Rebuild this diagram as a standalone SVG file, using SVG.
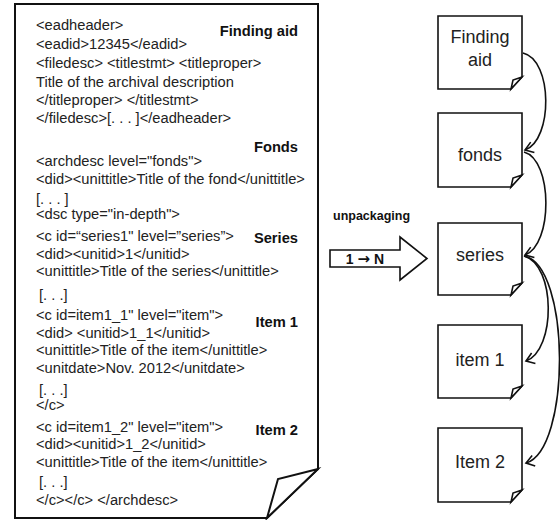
<svg xmlns="http://www.w3.org/2000/svg" width="560" height="520" viewBox="0 0 560 520">
<style>
.doc{font-family:"Liberation Sans",Arial,sans-serif;font-size:14.7px;fill:#222}
.lbl{font-family:"Liberation Sans",Arial,sans-serif;font-size:14.7px;font-weight:bold;fill:#111;text-anchor:end}
.box{fill:#fff;stroke:#111;stroke-width:1.6}
.bt{font-family:"Liberation Sans",Arial,sans-serif;font-size:18px;fill:#222;text-anchor:middle}
.con{fill:none;stroke:#111;stroke-width:1.6}
.ar{font-family:"Liberation Sans",Arial,sans-serif;font-weight:bold;font-size:12.5px;fill:#111}
</style>
<defs>
<marker id="chev" markerUnits="userSpaceOnUse" markerWidth="14" markerHeight="14" refX="0" refY="0" viewBox="-10 -7 12 14" orient="auto">
<path d="M-8,-5.5 L0,0 L-8,5.5" fill="none" stroke="#111" stroke-width="1.6"/>
</marker>
</defs>
<rect width="560" height="520" fill="#fff"/>
<g id="document">
<path d="M15,4 H318 V469 L267,518 H15 Z" fill="#fff" stroke="#111" stroke-width="2"/>
<path d="M318,469 L278,479 L267,518 Z" fill="#fff" stroke="#111" stroke-width="2" stroke-linejoin="miter"/>
<text class="doc" x="36" y="30">&lt;eadheader&gt;</text>
<text class="doc" x="36" y="49">&lt;eadid&gt;12345&lt;/eadid&gt;</text>
<text class="doc" x="36" y="68">&lt;filedesc&gt; &lt;titlestmt&gt; &lt;titleproper&gt;</text>
<text class="doc" x="36" y="87">Title of the archival description</text>
<text class="doc" x="36" y="105">&lt;/titleproper&gt; &lt;/titlestmt&gt;</text>
<text class="doc" x="36" y="123">&lt;/filedesc&gt;[. . . ]&lt;/eadheader&gt;</text>
<text class="doc" x="36" y="166">&lt;archdesc level="fonds"&gt;</text>
<text class="doc" x="36" y="184">&lt;did&gt;&lt;unittitle&gt;Title of the fond&lt;/unittitle&gt;</text>
<text class="doc" x="36" y="204">[. . . ]</text>
<text class="doc" x="36" y="219">&lt;dsc type="in-depth"&gt;</text>
<text class="doc" x="36" y="241">&lt;c id=“series1" level=”series”&gt;</text>
<text class="doc" x="36" y="259">&lt;did&gt;&lt;unitid&gt;1&lt;/unitid&gt;</text>
<text class="doc" x="36" y="276">&lt;unittitle&gt;Title of the series&lt;/unittitle&gt;</text>
<text class="doc" x="39" y="300">[. . .]</text>
<text class="doc" x="36" y="320">&lt;c id=item1_1" level="item"&gt;</text>
<text class="doc" x="36" y="338">&lt;did&gt; &lt;unitid&gt;1_1&lt;/unitid&gt;</text>
<text class="doc" x="36" y="355">&lt;unittitle&gt;Title of the item&lt;/unittitle&gt;</text>
<text class="doc" x="36" y="373">&lt;unitdate&gt;Nov. 2012&lt;/unitdate&gt;</text>
<text class="doc" x="39" y="395">[. . .]</text>
<text class="doc" x="36" y="410">&lt;/c&gt;</text>
<text class="doc" x="36" y="432">&lt;c id=item1_2" level="item"&gt;</text>
<text class="doc" x="36" y="449">&lt;did&gt;&lt;unitid&gt;1_2&lt;/unitid&gt;</text>
<text class="doc" x="36" y="467">&lt;unittitle&gt;Title of the item&lt;/unittitle&gt;</text>
<text class="doc" x="39" y="487">[. . .]</text>
<text class="doc" x="36" y="505">&lt;/c&gt;&lt;/c&gt; &lt;/archdesc&gt;</text>
<text class="lbl" x="298" y="36">Finding aid</text>
<text class="lbl" x="298" y="152">Fonds</text>
<text class="lbl" x="298" y="243">Series</text>
<text class="lbl" x="298" y="327">Item 1</text>
<text class="lbl" x="298" y="435">Item 2</text>
</g>
<g id="unpackaging">
<path d="M330,250 H400 V237 L427,258.5 L400,280 V267 H330 Z" fill="#fff" stroke="#111" stroke-width="1.6"/>
<text class="ar" x="333" y="220">unpackaging</text>
<text class="ar" x="365" y="263.5" text-anchor="middle" style="font-size:14px">1 <tspan style="font-family:'DejaVu Sans',sans-serif;font-size:15px">→</tspan> N</text>
</g>
<g id="node-finding-aid">
<path class="box" d="M438,16 H522 V77 L511,89 H438 Z"/>
<path class="box" d="M522,77 L513,80 L511,89 Z"/>
<text class="bt" x="480" y="43">Finding</text>
<text class="bt" x="480" y="66">aid</text>
</g>
<g id="node-fonds">
<path class="box" d="M438,113 H522 V175 L511,187 H438 Z"/>
<path class="box" d="M522,175 L513,178 L511,187 Z"/>
<text class="bt" x="480" y="161">fonds</text>
</g>
<g id="node-series">
<path class="box" d="M438,223 H522 V283 L511,295 H438 Z"/>
<path class="box" d="M522,283 L513,286 L511,295 Z"/>
<text class="bt" x="480" y="261">series</text>
</g>
<g id="node-item1">
<path class="box" d="M438,325 H522 V386 L511,398 H438 Z"/>
<path class="box" d="M522,386 L513,389 L511,398 Z"/>
<text class="bt" x="480" y="366">item 1</text>
</g>
<g id="node-item2">
<path class="box" d="M438,428 H522 V490 L511,502 H438 Z"/>
<path class="box" d="M522,490 L513,493 L511,502 Z"/>
<text class="bt" x="480" y="468">Item 2</text>
</g>
<g id="connectors">
<path class="con" d="M523,53 C553,60 553,140 525,150" marker-end="url(#chev)"/>
<path class="con" d="M524,152 C553,160 553,245 525,255" marker-end="url(#chev)"/>
<path class="con" d="M524,256 C556,265 556,350 526,361" marker-end="url(#chev)"/>
<path class="con" d="M524,256 C571,265 571,450 526,463" marker-end="url(#chev)"/>
</g>
</svg>
